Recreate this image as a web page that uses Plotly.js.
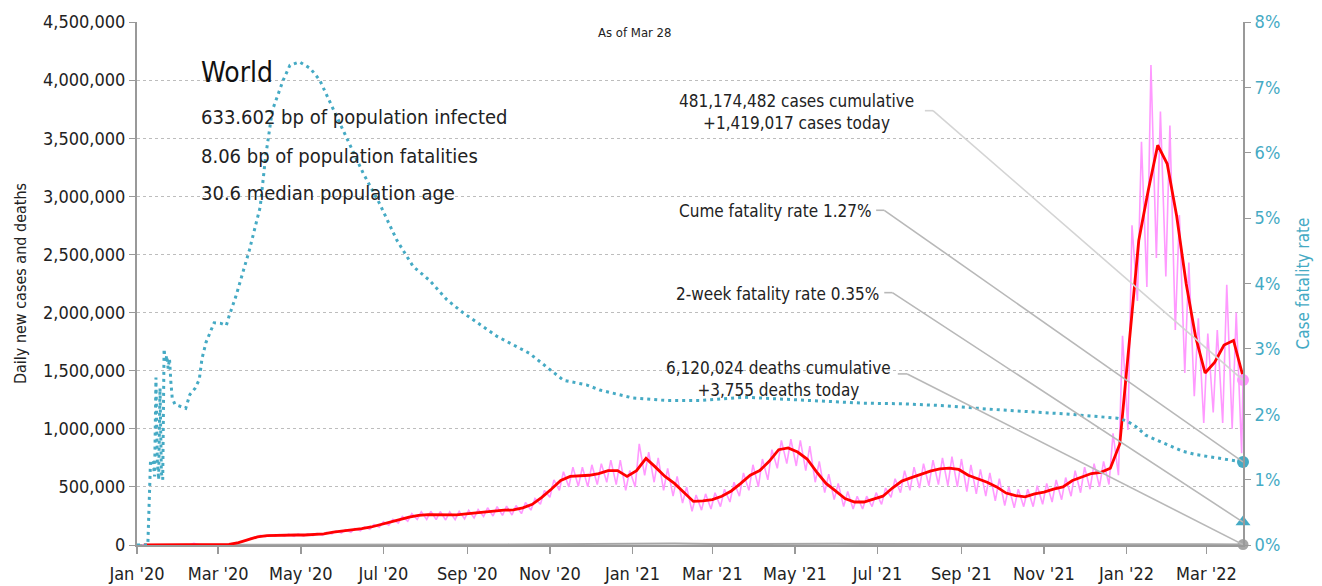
<!DOCTYPE html>
<html><head><meta charset="utf-8">
<script src="https://cdn.plot.ly/plotly-3.0.1.min.js"></script>
<style>html,body{margin:0;padding:0;background:#fff}#chart{width:1322px;height:586px}</style>
</head><body><div id="chart"></div>
<script>
// ---------- DATA ----------
// weekly samples: Sundays starting 2020-01-05 (daily lows), Wednesdays (daily highs), Mondays (7-day average)
const firstSunday = '2020-01-05';
const lastDate = '2022-03-28';

// 7-day average of daily new cases (thousands), Mondays
const casesAvgK = [0,0,0.1,1.5,3,3,4.5,1.5,2,4.5,
  20,45,70,80,84,85,86,86,88,95,
  110,118,128,140,155,178,195,218,240,255,
  262,260,258,260,268,275,288,295,300,302,
  320,350,410,480,555,590,595,600,615,640,
  640,590,640,745,670,590,530,450,375,380,
  390,420,465,530,600,640,720,820,835,800,
  740,630,530,465,400,370,370,395,420,490,
  550,580,610,635,655,662,650,600,570,540,
  500,447,425,415,440,455,480,500,555,585,
  615,625,660,870,1720,2620,3050,3440,3280,2830,
  2250,1790,1480,1570,1720,1760,1450];

// daily new cases (thousands): Sunday lows
const casesLowK = [0,0,0.1,0.8,2.9,2.5,2.0,0.6,1.9,4.0,
  16,38,62,72,76,76,74,76,80,84,
  95,102,110,122,135,152,170,188,205,220,
  220,218,215,218,225,232,245,250,255,258,
  270,300,350,410,470,500,505,500,520,540,
  520,470,500,600,540,470,420,360,290,300,
  310,330,370,420,470,500,560,660,700,680,
  640,540,450,390,330,310,310,330,350,410,
  450,470,490,510,520,510,500,460,440,420,
  380,340,320,330,330,350,370,390,420,450,
  480,500,520,600,990,2100,2220,2470,2310,1850,
  1480,1280,1050,1140,1050,1000,790];

// daily new cases (thousands): Wednesday highs
const casesHighK = [0,0,0.6,1.7,3.7,15,0.9,1.5,2.6,7,
  28,60,82,88,90,94,96,96,100,108,
  122,132,142,155,176,200,220,245,270,285,
  290,288,285,290,298,305,320,330,335,340,
  365,400,470,560,630,670,670,690,700,730,
  730,640,870,800,750,660,590,500,430,440,
  450,480,540,620,690,740,820,900,910,900,
  850,720,610,530,460,420,420,450,490,570,
  640,670,700,730,750,760,740,690,650,620,
  570,500,480,480,510,530,560,580,640,670,
  700,720,960,1800,2750,3470,4130,3730,3610,2840,
  2430,1950,1820,1850,2240,2000];

// case fatality rate (%)
const cfrDates = ['2020-01-01','2020-01-09','2020-01-11','2020-01-13','2020-01-14','2020-01-15','2020-01-16','2020-01-17','2020-01-18','2020-01-19',
  '2020-01-20','2020-01-21','2020-01-22','2020-01-23','2020-01-24','2020-01-25','2020-01-26','2020-01-27','2020-01-29','2020-02-06',
  '2020-02-09','2020-02-13','2020-02-16','2020-02-18','2020-02-21','2020-02-24','2020-02-27','2020-03-03','2020-03-07','2020-03-09',
  '2020-03-14','2020-03-24','2020-04-01','2020-04-05','2020-04-10','2020-04-18','2020-04-23','2020-04-30','2020-05-08','2020-05-15',
  '2020-05-22','2020-06-03','2020-06-16','2020-06-28','2020-07-11','2020-07-23','2020-08-04','2020-08-17','2020-08-29','2020-09-23',
  '2020-10-17','2020-11-11','2020-11-28','2020-12-08','2021-01-01','2021-01-26','2021-02-20','2021-03-25','2021-04-25','2021-05-25',
  '2021-06-20','2021-07-20','2021-08-20','2021-09-20','2021-10-20','2021-11-20','2021-12-25','2022-01-01','2022-01-08','2022-01-15',
  '2022-01-26','2022-02-05','2022-02-12','2022-02-22','2022-03-04','2022-03-15','2022-03-28'];
const cfrPct = [0,0,1.3,1.25,1.05,2.56,1.3,1.0,2.4,1.1,
  1.0,3.0,2.8,2.9,2.7,2.85,2.5,2.25,2.15,2.09,
  2.3,2.4,2.53,2.85,3.1,3.26,3.4,3.39,3.36,3.5,
  3.8,4.51,5.17,5.94,6.65,7.11,7.34,7.39,7.29,7.11,
  6.80,6.25,5.69,5.23,4.66,4.26,4.05,3.75,3.55,3.19,
  2.93,2.52,2.45,2.37,2.25,2.21,2.21,2.26,2.23,2.20,
  2.17,2.16,2.13,2.08,2.04,2.00,1.94,1.90,1.81,1.68,
  1.58,1.49,1.43,1.38,1.35,1.31,1.27];

// daily deaths, 7-day average (thousands), month starts
const deathDates = ['2020-01-01','2020-02-01','2020-03-01','2020-04-01','2020-05-01','2020-06-01','2020-07-01','2020-08-01','2020-09-01','2020-10-01','2020-11-01','2020-12-01',
  '2021-01-01','2021-02-01','2021-03-01','2021-04-01','2021-05-01','2021-06-01','2021-07-01','2021-08-01','2021-09-01','2021-10-01','2021-11-01','2021-12-01',
  '2022-01-01','2022-02-01','2022-03-01','2022-03-28'];
const deathsAvgK = [0,0.05,0.1,4.5,5.0,4.3,4.8,5.8,5.6,5.3,7.5,10.5,
  11.5,12.5,8.7,10.5,12.8,10.0,7.8,9.5,9.5,7.5,6.8,7.0,
  6.5,10.3,7.5,3.8];

// latest values
const casesToday = 1419017;
const deathsToday = 3755;
const cumeCfr = 1.27;
const twoWeekCfr = 0.35;

const xTickFormat = "%b '%y";

// ---------- BUILD ----------
const TEAL = '#45aac4';
const FONT = "'DejaVu Sans Condensed','Liberation Sans Narrow',Roboto,sans-serif";
function addDays(iso, n){ const d = new Date(iso + 'T00:00:00Z'); d.setUTCDate(d.getUTCDate() + n); return d.toISOString().slice(0,10); }

const dailyX = [], dailyY = [];
for (let i = 0; i < casesLowK.length; i++) {
  const sun = addDays(firstSunday, 7*i);
  dailyX.push(sun); dailyY.push(casesLowK[i]*1000);
  if (i < casesHighK.length) { dailyX.push(addDays(sun, 3)); dailyY.push(casesHighK[i]*1000); }
}
dailyX.push(lastDate); dailyY.push(casesToday);

const avgX = casesAvgK.map((_, i) => addDays(firstSunday, 7*i + 1));
const avgY = casesAvgK.map(v => v*1000);

const traces = [
  {x: deathDates, y: deathsAvgK.map(v => v*1000), type:'scatter', mode:'lines', line:{color:'#a6a6a6', width:2}, hoverinfo:'skip'},
  {x: dailyX, y: dailyY, type:'scatter', mode:'lines', line:{color:'#ff99ff', width:1.6}, hoverinfo:'skip'},
  {x: avgX, y: avgY, type:'scatter', mode:'lines', line:{color:'#ff0000', width:2.8}, hoverinfo:'skip'},
  {x: cfrDates, y: cfrPct, yaxis:'y2', type:'scatter', mode:'lines', line:{color:TEAL, width:3, dash:'3px,4px'}, hoverinfo:'skip'},
  {x:[lastDate], y:[casesToday], type:'scatter', mode:'markers', marker:{color:'#ff99ff', size:12}, cliponaxis:false, hoverinfo:'skip'},
  {x:[lastDate], y:[deathsToday], type:'scatter', mode:'markers', marker:{color:'#a6a6a6', size:11}, cliponaxis:false, hoverinfo:'skip'},
  {x:[lastDate], y:[cumeCfr], yaxis:'y2', type:'scatter', mode:'markers', marker:{color:TEAL, size:12}, cliponaxis:false, hoverinfo:'skip'},
  {x:[lastDate], y:[twoWeekCfr], yaxis:'y2', type:'scatter', mode:'markers', marker:{color:TEAL, size:13, symbol:'triangle-up'}, cliponaxis:false, hoverinfo:'skip'}
];

function leader(xa, xb, y0, y1, yref, color){
  return [
    {type:'line', layer:'above', xref:'x', yref:yref, x0:xa, x1:xb, y0:y0, y1:y0, line:{color:color, width:1.6}},
    {type:'line', layer:'above', xref:'x', yref:yref, x0:xb, x1:lastDate, y0:y0, y1:y1, line:{color:color, width:1.6}}
  ];
}
const shapes = [].concat(
  leader('2021-08-05','2021-08-11', 3737000, casesToday, 'y', '#d4d4d4'),
  leader('2021-06-30','2021-07-06', 5.12, cumeCfr, 'y2', '#b8b8b8'),
  leader('2021-07-06','2021-07-12', 3.86, twoWeekCfr, 'y2', '#b8b8b8'),
  leader('2021-07-16','2021-07-23', 1472000, deathsToday, 'y', '#b8b8b8')
);

const annFont = {family:FONT, size:17, color:'#222'};
const annotations = [
  {xref:'paper', yref:'paper', x:0.450, y:0.979, xanchor:'center', yanchor:'middle', text:'As of Mar 28', showarrow:false, font:{family:FONT, size:13, color:'#222'}},
  {xref:'paper', yref:'paper', x:0.056, y:0.9025, xanchor:'left', yanchor:'middle', text:'World', showarrow:false, font:{family:FONT, size:28, color:'#111'}},
  {xref:'paper', yref:'paper', x:0.056, y:0.818, xanchor:'left', yanchor:'middle', text:'633.602 bp of population infected', showarrow:false, font:{family:FONT, size:20, color:'#222'}},
  {xref:'paper', yref:'paper', x:0.056, y:0.744, xanchor:'left', yanchor:'middle', text:'8.06 bp of population fatalities', showarrow:false, font:{family:FONT, size:20, color:'#222'}},
  {xref:'paper', yref:'paper', x:0.056, y:0.673, xanchor:'left', yanchor:'middle', text:'30.6 median population age', showarrow:false, font:{family:FONT, size:20, color:'#222'}},
  {xref:'x', yref:'y', x:'2021-05-02', y:3726000, xanchor:'center', yanchor:'middle', text:'481,174,482 cases cumulative<br>+1,419,017 cases today', showarrow:false, align:'center', font:annFont},
  {xref:'x', yref:'y', x:'2021-04-17', y:2874000, xanchor:'center', yanchor:'middle', text:'Cume fatality rate 1.27%', showarrow:false, font:annFont},
  {xref:'x', yref:'y', x:'2021-04-18', y:2160000, xanchor:'center', yanchor:'middle', text:'2-week fatality rate 0.35%', showarrow:false, font:annFont},
  {xref:'x', yref:'y', x:'2021-04-19', y:1429000, xanchor:'center', yanchor:'middle', text:'6,120,024 deaths cumulative<br>+3,755 deaths today', showarrow:false, align:'center', font:annFont}
];

const layout = {
  width:1322, height:586,
  margin:{l:137, r:79, t:22, b:41},
  paper_bgcolor:'#fff', plot_bgcolor:'#fff',
  font:{family:FONT, size:17, color:'#222'},
  showlegend:false,
  xaxis:{type:'date', range:['2020-01-01', lastDate], tick0:'2020-01-01', dtick:'M2', tickformat:xTickFormat,
    ticks:'outside', ticklen:7, tickwidth:1.5, tickcolor:'#999', showline:true, linecolor:'#999', linewidth:2,
    showgrid:false, zeroline:false, ticklabelstandoff:4, tickfont:{family:FONT, size:18, color:'#222'}},
  yaxis:{range:[0, 4500000], dtick:500000, tickformat:',d', ticks:'outside', ticklen:6, tickcolor:'#999',
    showline:true, linecolor:'#999', linewidth:2, showgrid:true, gridcolor:'#bdbdbd', griddash:'dot', gridwidth:1,
    zeroline:false, tickfont:{family:FONT, size:18, color:'#222'},
    title:{text:'Daily new cases and deaths', font:{family:FONT, size:16, color:'#222'}, standoff:12}},
  yaxis2:{overlaying:'y', side:'right', range:[0, 8], dtick:1, ticksuffix:'%', ticks:'outside', ticklen:6, tickcolor:'#999',
    showline:true, linecolor:'#999', linewidth:2, showgrid:false, zeroline:false,
    tickfont:{family:FONT, size:18, color:TEAL},
    title:{text:'Case fatality rate', font:{family:FONT, size:17, color:TEAL}, standoff:18}},
  shapes: shapes,
  annotations: annotations
};

Plotly.newPlot('chart', traces, layout, {staticPlot:true, displayModeBar:false});
</script>
</body></html>
